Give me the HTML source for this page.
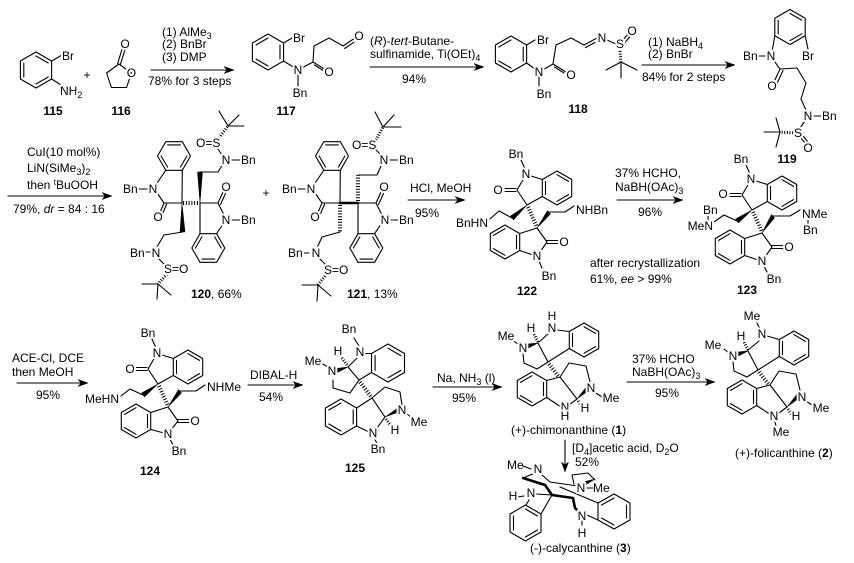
<!DOCTYPE html>
<html><head><meta charset="utf-8">
<style>
html,body{margin:0;padding:0;background:#fff;}
svg{display:block}
.b{stroke:#000;stroke-width:1.1;fill:none;stroke-linecap:round;stroke-linejoin:round}
.bb{stroke:#000;stroke-width:2.6;fill:none;stroke-linecap:round;stroke-linejoin:round}
.w{fill:#000;stroke:#000;stroke-width:0.5}
.h{stroke:#000;stroke-width:4;stroke-dasharray:1 1.8;fill:none}
.hs{stroke:#000;stroke-width:3;stroke-dasharray:1 1.6;fill:none}
text{font-family:"Liberation Sans",Arial,sans-serif;font-size:12px;fill:#000}
.a{paint-order:stroke;stroke:#fff;stroke-width:4px;stroke-linejoin:round}
.lb{font-weight:bold}
</style></head><body>
<svg width="854" height="563" viewBox="0 0 854 563" xmlns="http://www.w3.org/2000/svg">

<!-- ===== 115 ===== -->
<polygon class="b" points="36,52 51.6,61 51.6,79 36,88 20.4,79 20.4,61"/>
<path class="b" d="M36,56 L48.2,63 M48.2,77 L36,84 M23.8,77 L23.8,63 M51.6,61 L62,55 M51.6,79 L61,85"/>
<text class="a" x="62" y="60">Br</text>
<text class="a" x="60" y="95">NH<tspan font-size="9" dy="3">2</tspan></text>
<text x="87" y="79" text-anchor="middle">+</text>
<!-- 116 -->
<polygon class="b" points="119,64 131.4,73 126.6,87.5 111.4,87.5 106.6,73"/>
<path class="b" d="M117.6,63.6 L122.4,48 M120.4,64.4 L125.2,49"/>
<text class="a" x="131.4" y="77" text-anchor="middle">O</text>
<text class="a" x="125" y="48" text-anchor="middle">O</text>
<text class="lb" x="53" y="115" text-anchor="middle">115</text>
<text class="lb" x="121" y="115" text-anchor="middle">116</text>

<!-- arrow 1 -->
<line class="b" x1="151" y1="70" x2="227" y2="70"/>
<polygon class="w" points="234,70 224,66.5 227,70 224,73.5"/>
<text x="162" y="36">(1) AlMe<tspan font-size="9" dy="3">3</tspan></text>
<text x="162" y="48">(2) BnBr</text>
<text x="162" y="61">(3) DMP</text>
<text x="148" y="85">78% for 3 steps</text>

<!-- ===== 117 ===== -->
<polygon class="b" points="268,34 283.6,43 283.6,61 268,70 252.4,61 252.4,43"/>
<path class="b" d="M280,45 L280,59 M268,66 L256,59 M256,45 L268,38 M283.6,43 L292,38 M283.6,61 L298,70 M298,70 L298,86 M298,70 L313,62 M313,62 L326,70 M314.5,65 L324,71 M313,62 L314,46 L329,38 L343,46 L355,38 M344.6,48.5 L354,42.2"/>
<text class="a" x="293" y="42">Br</text>
<text class="a" x="298" y="74" text-anchor="middle">N</text>
<text class="a" x="300" y="97" text-anchor="middle">Bn</text>
<text class="a" x="329" y="76" text-anchor="middle">O</text>
<text class="a" x="359" y="40" text-anchor="middle">O</text>
<text class="lb" x="286" y="115" text-anchor="middle">117</text>

<!-- arrow 2 -->
<line class="b" x1="370" y1="67" x2="477" y2="67"/>
<polygon class="w" points="484,67 474,63.5 477,67 474,70.5"/>
<text x="370" y="45">(<tspan font-style="italic">R</tspan>)-<tspan font-style="italic">tert</tspan>-Butane-</text>
<text x="370" y="58">sulfinamide, Ti(OEt)<tspan font-size="9" dy="3">4</tspan></text>
<text x="414" y="83" text-anchor="middle">94%</text>

<!-- ===== 118 ===== -->
<polygon class="b" points="511,36 526.6,45 526.6,63 511,72 495.4,63 495.4,45"/>
<path class="b" d="M523.2,47 L523.2,61 M511,68 L498.8,61 M498.8,47 L511,40 M526.6,45 L535,40 M526.6,63 L539,72 M539,72 L539,86 M539,72 L553,64 M553,64 L566,72 M554.5,67 L564,73 M553,64 L556,45 L571,38 L584,45 L597,38 M585.4,47.6 L595,42.4 M607,40 L616,44 M622,41 L628,34 M624.5,43 L630.5,36 M621,62 L606,70 M621,62 L637,70 M621,62 L621,78"/>
<line class="hs" x1="620" y1="51" x2="621" y2="62"/>
<text class="a" x="537" y="44">Br</text>
<text class="a" x="539" y="76" text-anchor="middle">N</text>
<text class="a" x="544" y="98" text-anchor="middle">Bn</text>
<text class="a" x="571" y="79" text-anchor="middle">O</text>
<text class="a" x="602" y="42" text-anchor="middle">N</text>
<text class="a" x="620" y="48" text-anchor="middle">S</text>
<text class="a" x="632" y="35" text-anchor="middle">O</text>
<text class="lb" x="578" y="113" text-anchor="middle">118</text>

<!-- arrow 3 -->
<line class="b" x1="642" y1="65" x2="728" y2="65"/>
<polygon class="w" points="735,65 725,61.5 728,65 725,68.5"/>
<text x="648" y="46">(1) NaBH<tspan font-size="9" dy="3">4</tspan></text>
<text x="648" y="58">(2) BnBr</text>
<text x="642" y="81">84% for 2 steps</text>

<!-- ===== 119 ===== -->
<polygon class="b" points="790,9.5 805.2,18.25 805.2,35.75 790,44.5 774.8,35.75 774.8,18.25"/>
<path class="b" d="M790,13.4 L801.8,20.2 M801.8,33.8 L790,40.6 M778.2,33.8 L778.2,20.2 M774.8,35.75 L772,52 M758,56 L765,56 M805.2,35.75 L808,49 M772,58 L780,69 M780,69 L774,82 M783,70.5 L777,83.5 M780,69 L797,68 L806,83 L801,99 L806,110 M814,116 L822,116 M805,121 L800,128 M801,138 L805,143 M803.5,136.5 L807.5,141.5 M780,132 L764,132 M780,132 L776,118 M780,132 L776,147"/>
<line class="hs" x1="793" y1="133" x2="780" y2="132"/>
<text class="a" x="743" y="60">Bn</text>
<text class="a" x="771" y="60" text-anchor="middle">N</text>
<text class="a" x="808" y="60" text-anchor="middle">Br</text>
<text class="a" x="772" y="90" text-anchor="middle">O</text>
<text class="a" x="808" y="120" text-anchor="middle">N</text>
<text class="a" x="822" y="120">Bn</text>
<text class="a" x="798" y="137" text-anchor="middle">S</text>
<text class="a" x="808" y="152" text-anchor="middle">O</text>
<text class="lb" x="787" y="163" text-anchor="middle">119</text>

<!-- arrow 4 -->
<line class="b" x1="8" y1="196" x2="105" y2="196"/>
<polygon class="w" points="112,196 102,192.5 105,196 102,199.5"/>
<text x="27" y="156">CuI(10 mol%)</text>
<text x="27" y="172">LiN(SiMe<tspan font-size="9" dy="3">3</tspan><tspan dy="-3">)</tspan><tspan font-size="9" dy="3">2</tspan></text>
<text x="27" y="189">then <tspan font-size="8" dy="-4">t</tspan><tspan dy="4">BuOOH</tspan></text>
<text x="13" y="213">79%, <tspan font-style="italic">dr</tspan> = 84 : 16</text>

<!-- ===== 120 ===== -->
<polygon class="b" points="190.5,156 182.3,170.3 165.8,170.3 157.5,156 165.8,141.7 182.3,141.7"/>
<path class="b" d="M167.6,144.9 L180.4,144.9 M186.9,156 L180.4,167.1 M167.6,167.1 L161.1,156 M165.8,170.3 L155,186 M155,190 L164,203 L182,203 L182.3,170.3 M164,203 L159.5,213.5 M166.6,204.1 L162.1,214.6 M138,189 L147,189 M182.5,232 L164,235 L157,247 M143,252 L150,252 M158,258 L164,264 M158,284 L142,284 M158,284 L157,299 M158,284 L171,295"/>
<line class="h" x1="183" y1="203" x2="200" y2="203"/>
<polygon class="w" points="182,203 180,232 185,232"/>
<line class="hs" x1="167" y1="274" x2="158" y2="284"/>
<polygon class="b" points="224.8,248 216.6,262.3 200,262.3 191.8,248 200,233.7 216.6,233.7"/>
<path class="b" d="M200,203 L218,203 L224,215 M218,203 L223,192 M220.5,204.5 L225.5,193.5 M232,220 L240,220 M214.7,236.9 L221.2,248 M214.7,259.1 L201.9,259.1 M195.4,248 L201.9,236.9 M200,203 L200,233.7 M223,224 L216.6,233.7 M200,172 L218,172 L223,164 M232,160 L240,160 M222,155 L218,149 M228,126 L219,111 M228,126 L239,115 M228,126 L244,126"/>
<polygon class="w" points="200,203 197.5,172 202.5,172"/>
<line class="hs" x1="219" y1="138" x2="228" y2="126"/>
<text class="a" x="123" y="193">Bn</text>
<text class="a" x="153" y="193" text-anchor="middle">N</text>
<text class="a" x="158" y="221" text-anchor="middle">O</text>
<text class="a" x="130" y="257">Bn</text>
<text class="a" x="156" y="257" text-anchor="middle">N</text>
<text class="a" x="164" y="273">S=O</text>
<text class="a" x="226" y="224" text-anchor="middle">N</text>
<text class="a" x="241" y="224">Bn</text>
<text class="a" x="226" y="191" text-anchor="middle">O</text>
<text class="a" x="226" y="164" text-anchor="middle">N</text>
<text class="a" x="241" y="164">Bn</text>
<text class="a" x="196" y="147">O=S</text>
<text x="191" y="298"><tspan font-weight="bold">120</tspan>, 66%</text>

<text x="266" y="197" text-anchor="middle">+</text>

<!-- ===== 121 ===== -->
<polygon class="b" points="348.5,156 340.3,170.3 323.8,170.3 315.5,156 323.8,141.7 340.3,141.7"/>
<path class="b" d="M325.6,144.9 L338.4,144.9 M344.9,156 L338.4,167.1 M325.6,167.1 L319.1,156 M323.8,170.3 L313,186 M313,190 L322,203 L340,203 L340.3,170.3 M322,203 L317.5,213.5 M324.6,204.1 L320.1,214.6 M296,189 L305,189 M340,232 L322,237 L317,248 M302,253 L309,253 M319,258 L325,264 M318,285 L302,285 M318,285 L317,301 M318,285 L331,296"/>
<line class="bb" x1="340" y1="203" x2="358" y2="203"/>
<line class="h" x1="340" y1="205" x2="340" y2="232"/>
<line class="hs" x1="325" y1="276" x2="318" y2="285"/>
<polygon class="b" points="382.8,248 374.6,262.3 358,262.3 349.8,248 358,233.7 374.6,233.7"/>
<path class="b" d="M358,203 L376,203 L382,215 M376,203 L381,192 M378.5,204.5 L383.5,193.5 M391,220 L398,220 M372.7,236.9 L379.2,248 M372.7,259.1 L359.9,259.1 M353.4,248 L359.9,236.9 M358,203 L358,233.7 M381,224 L374.6,233.7 M358,175 L377,175 L381,166 M390,160 L398,160 M381,155 L376,150 M383,127 L375,112 M383,127 L394,115 M383,127 L401,127"/>
<line class="h" x1="358" y1="201" x2="358" y2="175"/>
<line class="hs" x1="376" y1="140" x2="383" y2="127"/>
<text class="a" x="282" y="193">Bn</text>
<text class="a" x="311" y="193" text-anchor="middle">N</text>
<text class="a" x="315" y="221" text-anchor="middle">O</text>
<text class="a" x="288" y="257">Bn</text>
<text class="a" x="316" y="257" text-anchor="middle">N</text>
<text class="a" x="324" y="274">S=O</text>
<text class="a" x="385" y="224" text-anchor="middle">N</text>
<text class="a" x="399" y="224">Bn</text>
<text class="a" x="384" y="191" text-anchor="middle">O</text>
<text class="a" x="384" y="164" text-anchor="middle">N</text>
<text class="a" x="399" y="164">Bn</text>
<text class="a" x="352" y="149">O=S</text>
<text x="347" y="298"><tspan font-weight="bold">121</tspan>, 13%</text>

<!-- arrow 5 -->
<line class="b" x1="408" y1="200" x2="458" y2="200"/>
<polygon class="w" points="465,200 455,196.5 458,200 455,203.5"/>
<text x="410" y="192">HCl, MeOH</text>
<text x="427" y="217" text-anchor="middle">95%</text>

<!-- ===== 122 ===== -->
<polygon class="b" points="557,171 571.7,179.5 571.7,196.5 557,205 542.3,196.5 542.3,179.5"/>
<path class="b" d="M557,174.7 L568.5,181.4 M568.5,194.6 L557,201.3 M545.5,194.6 L545.5,181.4 M531,176 L542.3,179.5 M524,178 L517,190 L527,205 L542.3,196.5 M516,188.5 L505,188.5 M516,191.5 L505,191.5 M525,169 L521,160 M512,218 L499,211 L490,219"/>
<polygon class="w" points="527,205 510.5,216 513.5,220"/>
<line class="h" x1="528" y1="207" x2="537" y2="227"/>
<polygon class="b" points="505,225 519.7,233.5 519.7,250.5 505,259 490.3,250.5 490.3,233.5"/>
<path class="b" d="M493.5,235.4 L505,228.7 M516.5,235.4 L516.5,248.6 M505,255.3 L493.5,248.6 M537,228 L519.7,233.5 M537,228 L547,242 L540,252 M533,255 L519.7,250.5 M547,240.5 L559,240.5 M547,243.5 L559,243.5 M539,261 L542,268 M549,212 L565,212 L574,206"/>
<polygon class="w" points="537,228 547.5,210.5 550.5,214"/>
<text class="a" x="526" y="178" text-anchor="middle">N</text>
<text class="a" x="516" y="158" text-anchor="middle">Bn</text>
<text class="a" x="498" y="194" text-anchor="middle">O</text>
<text class="a" x="488" y="227" text-anchor="end">BnHN</text>
<text class="a" x="564" y="246" text-anchor="middle">O</text>
<text class="a" x="537" y="260" text-anchor="middle">N</text>
<text class="a" x="549" y="280" text-anchor="middle">Bn</text>
<text class="a" x="576" y="214">NHBn</text>
<text class="lb" x="527" y="295" text-anchor="middle">122</text>

<!-- arrow 6 -->
<line class="b" x1="617" y1="200" x2="676" y2="200"/>
<polygon class="w" points="683,200 673,196.5 676,200 673,203.5"/>
<text x="615" y="177">37% HCHO,</text>
<text x="615" y="191">NaBH(OAc)<tspan font-size="9" dy="3">3</tspan></text>
<text x="650" y="216" text-anchor="middle">96%</text>
<text x="590" y="267">after recrystallization</text>
<text x="590" y="283">61%, <tspan font-style="italic">ee</tspan> &gt; 99%</text>

<!-- ===== 123 ===== -->
<polygon class="b" points="782,176 796.7,184.5 796.7,201.5 782,210 767.3,201.5 767.3,184.5"/>
<path class="b" d="M782,179.7 L793.5,186.4 M793.5,199.6 L782,206.3 M770.5,199.6 L770.5,186.4 M756,181 L767.3,184.5 M749,183 L742,195 L752,210 L767.3,201.5 M741,193.5 L730,193.5 M741,196.5 L730,196.5 M750,174 L746,165 M737,221 L724,215 L714,222 M708,220 L708,216"/>
<polygon class="w" points="752,210 735.5,219 738.5,223"/>
<line class="h" x1="753" y1="212" x2="762" y2="232"/>
<polygon class="b" points="730,230 744.7,238.5 744.7,255.5 730,264 715.3,255.5 715.3,238.5"/>
<path class="b" d="M718.5,240.4 L730,233.7 M741.5,240.4 L741.5,253.6 M730,260.3 L718.5,253.6 M762,233 L744.7,238.5 M762,233 L772,247 L765,257 M758,260 L744.7,255.5 M772,245.5 L784,245.5 M772,248.5 L784,248.5 M764,266 L767,272 M773,216 L790,216 L800,210 M808,220 L808,224"/>
<polygon class="w" points="762,233 771.5,214.5 774.5,218"/>
<text class="a" x="751" y="183" text-anchor="middle">N</text>
<text class="a" x="741" y="163" text-anchor="middle">Bn</text>
<text class="a" x="723" y="198" text-anchor="middle">O</text>
<text class="a" x="703" y="214">Bn</text>
<text class="a" x="713" y="230" text-anchor="end">MeN</text>
<text class="a" x="789" y="251" text-anchor="middle">O</text>
<text class="a" x="762" y="265" text-anchor="middle">N</text>
<text class="a" x="774" y="283" text-anchor="middle">Bn</text>
<text class="a" x="802" y="218">NMe</text>
<text class="a" x="803" y="234">Bn</text>
<text class="lb" x="747" y="294" text-anchor="middle">123</text>

<!-- arrow 7 -->
<line class="b" x1="17" y1="383" x2="81" y2="383"/>
<polygon class="w" points="88,383 78,379.5 81,383 78,386.5"/>
<text x="12" y="362">ACE-Cl, DCE</text>
<text x="12" y="376">then MeOH</text>
<text x="48" y="399" text-anchor="middle">95%</text>

<!-- ===== 124 ===== -->
<polygon class="b" points="188,350 202.7,358.5 202.7,375.5 188,384 173.3,375.5 173.3,358.5"/>
<path class="b" d="M188,353.7 L199.5,360.4 M199.5,373.6 L188,380.3 M176.5,373.6 L176.5,360.4 M162,355 L173.3,358.5 M155,357 L148,369 L158,384 L173.3,375.5 M147,367.5 L136,367.5 M147,370.5 L136,370.5 M156,348 L152,339 M143,395 L130,389 L121,396"/>
<polygon class="w" points="158,384 141.5,393 144.5,397"/>
<line class="h" x1="159" y1="386" x2="168" y2="406"/>
<polygon class="b" points="136,404 150.7,412.5 150.7,429.5 136,438 121.3,429.5 121.3,412.5"/>
<path class="b" d="M124.5,414.4 L136,407.7 M147.5,414.4 L147.5,427.6 M136,434.3 L124.5,427.6 M168,407 L150.7,412.5 M168,407 L178,421 L171,430 M164,433 L150.7,429.5 M178,419.5 L190,419.5 M178,422.5 L190,422.5 M170,439 L173,445 M180,391 L196,391 L205,385"/>
<polygon class="w" points="168,407 178.5,389.5 181.5,393"/>
<text class="a" x="157" y="357" text-anchor="middle">N</text>
<text class="a" x="148" y="337" text-anchor="middle">Bn</text>
<text class="a" x="130" y="373" text-anchor="middle">O</text>
<text class="a" x="119" y="403" text-anchor="end">MeHN</text>
<text class="a" x="195" y="425" text-anchor="middle">O</text>
<text class="a" x="168" y="438" text-anchor="middle">N</text>
<text class="a" x="179" y="455" text-anchor="middle">Bn</text>
<text class="a" x="207" y="391">NHMe</text>
<text class="lb" x="150" y="475" text-anchor="middle">124</text>

<!-- arrow 8 -->
<line class="b" x1="248" y1="385" x2="296" y2="385"/>
<polygon class="w" points="303,385 293,381.5 296,385 293,388.5"/>
<text x="250" y="379">DIBAL-H</text>
<text x="271" y="401" text-anchor="middle">54%</text>

<!-- ===== 125 ===== -->
<polygon class="b" points="388,344 404.5,353.5 404.5,372.5 388,382 371.5,372.5 371.5,353.5"/>
<path class="b" d="M388,348.2 L400.9,355.6 M400.9,370.4 L388,377.8 M375.1,370.4 L375.1,355.6 M359,346 L354,338 M365,353.5 L371.5,353.5 M357,358 L348,367 M348,367 L359,380 M359,380 L371.5,372.5 M329,368 L323,364 M333,380 L333,388 L350,393 L359,380"/>
<line class="hs" x1="347" y1="365" x2="341" y2="357"/>
<polygon class="w" points="348,367 336,368.5 337.5,372.5"/>
<line class="h" x1="360" y1="382" x2="372" y2="398"/>
<polygon class="b" points="341,399 356.6,408 356.6,426 341,435 325.4,426 325.4,408"/>
<path class="b" d="M328.8,410 L341,403 M353.2,410 L353.2,424 M341,431 L328.8,424 M372,398 L356.6,408 M356.6,426 L369,432 M372,398 L385,417 M372,398 L385,387 L400,392 L402,405 M407,414 L412,418 M385,417 L377,428 M375,440 L377,443"/>
<polygon class="w" points="385,417 398.5,407.5 400,411.5"/>
<line class="hs" x1="386" y1="419" x2="391" y2="426"/>
<text class="a" x="360" y="356" text-anchor="middle">N</text>
<text class="a" x="349" y="333" text-anchor="middle">Bn</text>
<text class="a" x="338" y="355" text-anchor="middle">H</text>
<text class="a" x="332" y="375" text-anchor="middle">N</text>
<text class="a" x="313" y="365" text-anchor="middle">Me</text>
<text class="a" x="402" y="414" text-anchor="middle">N</text>
<text class="a" x="419" y="426" text-anchor="middle">Me</text>
<text class="a" x="373" y="437" text-anchor="middle">N</text>
<text class="a" x="395" y="434" text-anchor="middle">H</text>
<text class="a" x="378" y="453" text-anchor="middle">Bn</text>
<text class="lb" x="355" y="472" text-anchor="middle">125</text>

<!-- arrow 9 -->
<line class="b" x1="433" y1="387" x2="495" y2="387"/>
<polygon class="w" points="502,387 492,383.5 495,387 492,390.5"/>
<text x="437" y="382">Na, NH<tspan font-size="9" dy="3">3</tspan><tspan dy="-3"> (l)</tspan></text>
<text x="464" y="402" text-anchor="middle">95%</text>

<!-- ===== chimonanthine (1) ===== -->
<polygon class="b" points="584,323 598.7,331.5 598.7,348.5 584,357 569.3,348.5 569.3,331.5"/>
<path class="b" d="M584,326.7 L595.5,333.4 M595.5,346.6 L584,353.3 M572.5,346.6 L572.5,333.4 M557,330 L569.3,331.5 M549,333 L539,342 M519,345 L514,341 M523,354 L524,363 L537,369 L548,362 M538,343 L548,362 M548,362 L569.3,348.5"/>
<line class="hs" x1="538" y1="342" x2="534" y2="334"/>
<polygon class="w" points="538,343 527,344 528.5,348"/>
<line class="h" x1="549" y1="364" x2="559" y2="377"/>
<polygon class="b" points="532,372 546.7,380.5 546.7,397.5 532,406 517.3,397.5 517.3,380.5"/>
<path class="b" d="M520.5,382.4 L532,375.7 M543.5,382.4 L543.5,395.6 M532,402.3 L520.5,395.6 M560,377 L546.7,380.5 M560,377 L569,363 L586,366 L590,382 M560,377 L577,399 M596,393 L602,397 M577,399 L569,405 M561,407 L546.7,397.5"/>
<polygon class="w" points="577,399 587,386 590,389.5"/>
<line class="hs" x1="578" y1="401" x2="582" y2="407"/>
<text class="a" x="552" y="332" text-anchor="middle">N</text>
<text class="a" x="552" y="320" text-anchor="middle">H</text>
<text class="a" x="531" y="332" text-anchor="middle">H</text>
<text class="a" x="523" y="352" text-anchor="middle">N</text>
<text class="a" x="506" y="340" text-anchor="middle">Me</text>
<text class="a" x="591" y="392" text-anchor="middle">N</text>
<text class="a" x="611" y="402" text-anchor="middle">Me</text>
<text class="a" x="565" y="411" text-anchor="middle">N</text>
<text class="a" x="565" y="420" text-anchor="middle">H</text>
<text class="a" x="585" y="412" text-anchor="middle">H</text>
<text x="511" y="434">(+)-chimonanthine (<tspan font-weight="bold">1</tspan>)</text>

<!-- arrow down -->
<line class="b" x1="565" y1="440" x2="565" y2="465"/>
<polygon class="w" points="565,472 561.5,462 565,465 568.5,462"/>
<text x="572" y="452">[D<tspan font-size="9" dy="3">4</tspan><tspan dy="-3">]acetic acid, D</tspan><tspan font-size="9" dy="3">2</tspan><tspan dy="-3">O</tspan></text>
<text x="575" y="466">52%</text>

<!-- arrow 11 -->
<line class="b" x1="627" y1="382" x2="708" y2="382"/>
<polygon class="w" points="715,382 705,378.5 708,382 705,385.5"/>
<text x="632" y="363">37% HCHO</text>
<text x="632" y="376">NaBH(OAc)<tspan font-size="9" dy="3">3</tspan></text>
<text x="667" y="397" text-anchor="middle">95%</text>

<!-- ===== folicanthine (2) ===== -->
<polygon class="b" points="794,331 808.7,339.5 808.7,356.5 794,365 779.3,356.5 779.3,339.5"/>
<path class="b" d="M794,334.7 L805.5,341.4 M805.5,354.6 L794,361.3 M782.5,354.6 L782.5,341.4 M760,329 L757,323 M767,336 L779.3,339.5 M759,341 L748,350 M729,353 L724,349 M733,362 L734,371 L747,377 L758,370 M748,351 L758,370 M758,370 L779.3,356.5"/>
<line class="hs" x1="748" y1="350" x2="744" y2="342"/>
<polygon class="w" points="748,351 737,352 738.5,356"/>
<line class="h" x1="759" y1="372" x2="769" y2="385"/>
<polygon class="b" points="742,380 756.7,388.5 756.7,405.5 742,414 727.3,405.5 727.3,388.5"/>
<path class="b" d="M730.5,390.4 L742,383.7 M753.5,390.4 L753.5,403.6 M742,410.3 L730.5,403.6 M770,385 L756.7,388.5 M770,385 L779,371 L796,374 L800,390 M770,385 L787,407 M806,401 L812,405 M787,407 L779,413 M771,415 L756.7,405.5 M775,422 L776,426"/>
<polygon class="w" points="787,407 797,394 800,397.5"/>
<line class="hs" x1="788" y1="409" x2="792" y2="415"/>
<text class="a" x="762" y="338" text-anchor="middle">N</text>
<text class="a" x="752" y="320" text-anchor="middle">Me</text>
<text class="a" x="741" y="340" text-anchor="middle">H</text>
<text class="a" x="733" y="360" text-anchor="middle">N</text>
<text class="a" x="713" y="349" text-anchor="middle">Me</text>
<text class="a" x="802" y="401" text-anchor="middle">N</text>
<text class="a" x="821" y="412" text-anchor="middle">Me</text>
<text class="a" x="774" y="420" text-anchor="middle">N</text>
<text class="a" x="781" y="436" text-anchor="middle">Me</text>
<text class="a" x="796" y="420" text-anchor="middle">H</text>
<text x="735" y="457">(+)-folicanthine (<tspan font-weight="bold">2</tspan>)</text>

<!-- ===== calycanthine (3) ===== -->
<polygon class="b" points="525.5,505 541,514 541,532 525.5,541 510,532 510,514"/>
<path class="b" d="M525.5,509 L537.5,516 M537.5,530 L525.5,537 M513.5,530 L513.5,516"/>
<polygon class="b" points="614,494 630,503 630,520 614,529 598,520 598,503"/>
<path class="b" d="M601.5,505 L614,498 M626.5,505 L626.5,518 M614,525 L601.5,518"/>
<path class="b" d="M523,466 L531,469 M535,473 L523,478 M541,474 L550,482 M550,482 L578,486 M572,475 L588,473 L595,480 M572,475 L574,484 M517,497 L524,496 M536,494 L552,495 M529,500 L526,505 M552,495 L541,514 M587,515 L598,520 M560,487 L598,503 M587,488 L593,488 M582,521 L582,525"/>
<path class="bb" d="M523,478 L545,485 L552,495 L573,498 L575,508 L579,512"/>
<polygon class="w" points="595,479 583,482 584,486"/>
<text x="507" y="469">Me</text>
<text class="a" x="538" y="473" text-anchor="middle">N</text>
<text class="a" x="513" y="500" text-anchor="middle">H</text>
<text class="a" x="531" y="497" text-anchor="middle">N</text>
<text class="a" x="581" y="492" text-anchor="middle">N</text>
<text x="593" y="492">Me</text>
<text class="a" x="582" y="520" text-anchor="middle">N</text>
<text class="a" x="582" y="537" text-anchor="middle">H</text>
<text x="530" y="552">(-)-calycanthine (<tspan font-weight="bold">3</tspan>)</text>

</svg>
</body></html>
